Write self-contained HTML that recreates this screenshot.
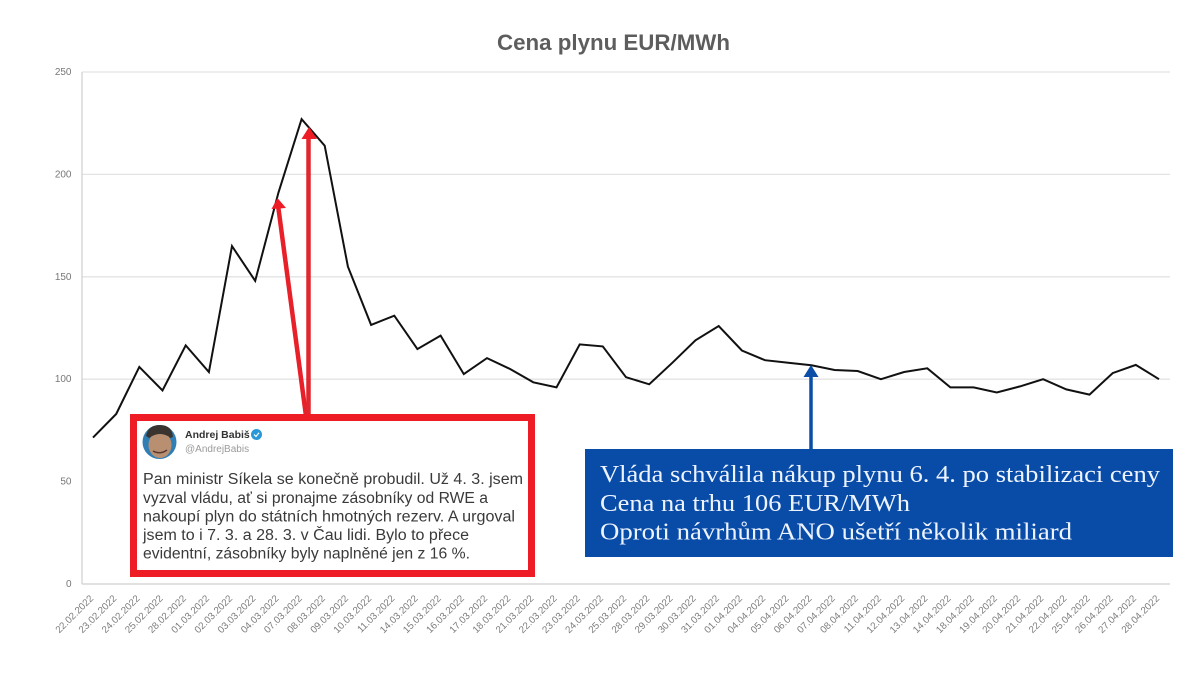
<!DOCTYPE html>
<html lang="cs">
<head>
<meta charset="utf-8">
<title>Cena plynu EUR/MWh</title>
<style>
html,body{margin:0;padding:0;background:#fff}
svg{display:block}
text{font-family:"Liberation Sans",sans-serif}
.serif{font-family:"Liberation Serif",serif}
</style>
</head>
<body>
<svg id="chart" xmlns="http://www.w3.org/2000/svg" width="1200" height="675" viewBox="0 0 1200 675">
  <rect width="1200" height="675" fill="#ffffff"/>
  <text x="613.5" y="50" text-anchor="middle" font-size="22" font-weight="bold" fill="#5d5d5d" textLength="233" lengthAdjust="spacingAndGlyphs">Cena plynu EUR/MWh</text>
  <g id="grid"></g>
  <g id="yticks"></g>
  <g id="xticks"></g>
  <polyline id="line" fill="none" stroke="#111111" stroke-width="2" stroke-linejoin="miter"/>

  <g>
    <line x1="306" y1="416" x2="278" y2="205" stroke="#e8202a" stroke-width="4.5"/>
    <polygon points="277.5,198 271.5,209 286,208" fill="#ee1c25"/>
    <line x1="308.5" y1="416" x2="308.5" y2="135" stroke="#e0262e" stroke-width="4.5"/>
    <polygon points="309,127 301.5,139 317,139" fill="#ee1c25"/>
  </g>

  <g>
    <rect x="133.5" y="417.5" width="398" height="156" fill="#ffffff" stroke="#ee1c25" stroke-width="7"/>
    <g>
      <circle cx="159.5" cy="442" r="17" fill="#2f7fb5"/>
      <path d="M146 436 Q148 425 160 425 Q172 425 173 437 L170 438 Q160 431 149 438 Z" fill="#3a3430"/>
      <ellipse cx="160" cy="445" rx="11.5" ry="13" fill="#b98f72"/>
      <path d="M149 438 Q160 430 171 438 L171 434 Q160 427 149 434 Z" fill="#3a3430"/>
      <path d="M153 451 Q160 455 167 450" stroke="#5a3a30" stroke-width="1.5" fill="none"/>
    </g>
    <text x="185" y="438" font-size="10.5" font-weight="bold" fill="#333333">Andrej Babiš</text>
    <circle cx="256.5" cy="434.5" r="5.5" fill="#2a97d8"/>
    <path d="M254 434.5 L256 436.5 L259 432.8" stroke="#ffffff" stroke-width="1.2" fill="none"/>
    <text x="185" y="452" font-size="10" fill="#9a9a9a">@AndrejBabis</text>
    <g font-size="15.5" fill="#3a3a3a">
      <text x="143" y="484" textLength="380" lengthAdjust="spacingAndGlyphs">Pan ministr Síkela se konečně probudil. Už 4. 3. jsem</text>
      <text x="143" y="503" textLength="345" lengthAdjust="spacingAndGlyphs">vyzval vládu, ať si pronajme zásobníky od RWE a</text>
      <text x="143" y="521.5" textLength="372" lengthAdjust="spacingAndGlyphs">nakoupí plyn do státních hmotných rezerv. A urgoval</text>
      <text x="143" y="540" textLength="326" lengthAdjust="spacingAndGlyphs">jsem to i 7. 3. a 28. 3. v Čau lidi. Bylo to přece</text>
      <text x="143" y="558.5" textLength="327" lengthAdjust="spacingAndGlyphs">evidentní, zásobníky byly naplněné jen z 16 %.</text>
    </g>
  </g>

  <g>
    <line x1="811" y1="449" x2="811" y2="372" stroke="#0b4ea8" stroke-width="3.5"/>
    <polygon points="811,365 803.5,377 818.5,377" fill="#0b4ea8"/>
  </g>
  <g>
    <rect x="585" y="449" width="588" height="108" fill="#094ca8"/>
    <g fill="#eef4ff" font-size="24">
      <text class="serif" x="600" y="482" textLength="560" lengthAdjust="spacingAndGlyphs">Vláda schválila nákup plynu 6. 4. po stabilizaci ceny</text>
      <text class="serif" x="600" y="511" textLength="310" lengthAdjust="spacingAndGlyphs">Cena na trhu 106 EUR/MWh</text>
      <text class="serif" x="600" y="539.5" textLength="472" lengthAdjust="spacingAndGlyphs">Oproti návrhům ANO ušetří několik miliard</text>
    </g>
  </g>
</svg>
<script>
const categories = ["22.02.2022","23.02.2022","24.02.2022","25.02.2022","28.02.2022","01.03.2022","02.03.2022","03.03.2022","04.03.2022","07.03.2022","08.03.2022","09.03.2022","10.03.2022","11.03.2022","14.03.2022","15.03.2022","16.03.2022","17.03.2022","18.03.2022","21.03.2022","22.03.2022","23.03.2022","24.03.2022","25.03.2022","28.03.2022","29.03.2022","30.03.2022","31.03.2022","01.04.2022","04.04.2022","05.04.2022","06.04.2022","07.04.2022","08.04.2022","11.04.2022","12.04.2022","13.04.2022","14.04.2022","18.04.2022","19.04.2022","20.04.2022","21.04.2022","22.04.2022","25.04.2022","26.04.2022","27.04.2022","28.04.2022"];
const prices = [71.5,83,106,94.5,116.5,103.5,165,148,191,227,214,155,126.5,131,114.7,121.3,102.5,110.3,105,98.5,96,117,116,101,97.5,108,119,126,114,109.3,108,106.8,104.5,104,100,103.5,105.3,96,96,93.5,96.5,100,95,92.5,103,107,100];
const yTicks = [0,50,100,150,200,250];
const gridTicks = [0,100,150,200,250];

const NS = "http://www.w3.org/2000/svg";
const plotLeft = 82, plotRight = 1170, plotTop = 72, plotBottom = 584;
const firstX = 93, lastX = 1159;
const yMax = 250;
function xScale(i){ return firstX + (lastX - firstX) * i / (categories.length - 1); }
function yScale(v){ return plotBottom - (plotBottom - plotTop) * v / yMax; }

const grid = document.getElementById("grid");
const yLabels = document.getElementById("yticks");
const xLabels = document.getElementById("xticks");

gridTicks.forEach(function(t){
  const l = document.createElementNS(NS, "line");
  
  
  l.setAttribute("x1", plotLeft);
  l.setAttribute("x2", plotRight);
  l.setAttribute("y1", yScale(t));
  l.setAttribute("y2", yScale(t));
  l.setAttribute("stroke", t === 0 ? "#cfcfcf" : "#e3e3e3");
  l.setAttribute("stroke-width", "1.3");
  grid.appendChild(l);
});

yTicks.forEach(function(t){
  const txt = document.createElementNS(NS, "text");
  
  
  txt.setAttribute("x", 71.5);
  txt.setAttribute("y", yScale(t) + 3);
  txt.setAttribute("text-anchor", "end");
  txt.setAttribute("font-size", "10");
  txt.setAttribute("fill", "#777777");
  txt.textContent = t;
  yLabels.appendChild(txt);
});

const axis = document.createElementNS(NS, "line");


axis.setAttribute("x1", plotLeft);
axis.setAttribute("x2", plotLeft);
axis.setAttribute("y1", plotTop);
axis.setAttribute("y2", plotBottom);
axis.setAttribute("stroke", "#d2d2d2");
axis.setAttribute("stroke-width", "1.3");
grid.appendChild(axis);

categories.forEach(function(c, i){
  const txt = document.createElementNS(NS, "text");
  
  
  const x = xScale(i) + 1, y = 599;
  txt.setAttribute("x", x);
  txt.setAttribute("y", y);
  txt.setAttribute("text-anchor", "end");
  txt.setAttribute("font-size", "9.8");
  txt.setAttribute("fill", "#7c7c7c");
  txt.setAttribute("transform", "rotate(-45 " + x + " " + y + ")");
  txt.textContent = c;
  xLabels.appendChild(txt);
});

document.getElementById("line").setAttribute("points", prices.map(function(v, i){
  return xScale(i).toFixed(1) + "," + yScale(v).toFixed(1);
}).join(" "));
</script>
</body>
</html>
